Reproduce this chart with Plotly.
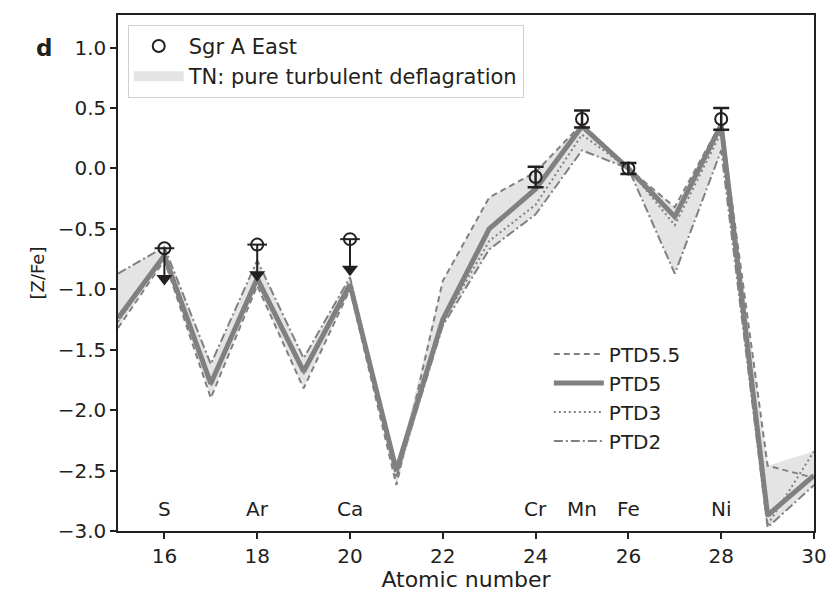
import numpy as np
import plotly.graph_objects as go

# Atomic numbers (P .. Zn)
Z = [15, 16, 17, 18, 19, 20, 21, 22, 23, 24, 25, 26, 27, 28, 29, 30]

# [Z/Fe] yields of the pure turbulent deflagration models
ptd55 = [-1.32, -0.76, -1.90, -0.97, -1.82, -1.00, -2.62, -0.93, -0.24, -0.03, 0.37, 0.0, -0.32, 0.38, -2.46, -2.56]
ptd5 = [-1.24, -0.72, -1.78, -0.91, -1.68, -0.96, -2.50, -1.25, -0.50, -0.17, 0.35, 0.0, -0.40, 0.36, -2.87, -2.54]
ptd3 = [-1.27, -0.72, -1.80, -0.92, -1.70, -0.97, -2.55, -1.27, -0.60, -0.30, 0.28, 0.0, -0.47, 0.30, -2.95, -2.34]
ptd2 = [-0.87, -0.65, -1.62, -0.76, -1.57, -0.90, -2.55, -1.30, -0.67, -0.38, 0.15, 0.0, -0.87, 0.15, -2.97, -2.62]

# Sgr A East measurements
obs_z = [24, 25, 26, 28]
obs_val = [-0.07, 0.41, 0.0, 0.41]
obs_err = [0.085, 0.07, 0.045, 0.09]

# Sgr A East upper limits
lim_z = [16, 18, 20]
lim_val = [-0.66, -0.63, -0.585]
arrow_len = 0.25

# Element labels along the bottom
el_z = [16, 18, 20, 24, 25, 26, 28]
el_names = ["S", "Ar", "Ca", "Cr", "Mn", "Fe", "Ni"]
el_y = -2.82

INK = "#231f20"
GREY = "#808080"
FILL = "#e4e4e4"
FONT = "DejaVu Sans"

models = np.array([ptd55, ptd5, ptd3, ptd2])
upper = models.max(axis=0)
lower = models.min(axis=0)

fig = go.Figure()

# model envelope
fig.add_trace(go.Scatter(x=Z, y=upper, mode="lines", line=dict(width=0, color=FILL),
                         showlegend=False, hoverinfo="skip"))
fig.add_trace(go.Scatter(x=Z, y=lower, mode="lines", line=dict(width=0, color=FILL),
                         fill="tonexty", fillcolor=FILL, showlegend=False, hoverinfo="skip"))
# legend swatch for the envelope
fig.add_trace(go.Scatter(x=[None], y=[None], mode="lines", line=dict(width=16, color=FILL),
                         name="TN: pure turbulent deflagration",
                         legend="legend", legendgroup="g2", legendrank=2))

# model curves
styles = [
    ("PTD5.5", ptd55, dict(color=GREY, width=2, dash="6px,4px")),
    ("PTD5", ptd5, dict(color=GREY, width=5)),
    ("PTD3", ptd3, dict(color=GREY, width=2, dash="2px,3px")),
    ("PTD2", ptd2, dict(color=GREY, width=2, dash="9px,3px,2px,3px")),
]
for i, (name, ys, ln) in enumerate(styles):
    fig.add_trace(go.Scatter(x=Z, y=ys, mode="lines", line=ln, name=name,
                             legend="legend2", legendgroup=f"m{i}", legendrank=i + 1))

# measurements with error bars
fig.add_trace(go.Scatter(
    x=obs_z, y=obs_val, mode="markers", name="Sgr A East",
    marker=dict(symbol="circle-open", size=12, color=INK, line=dict(width=2, color=INK)),
    error_y=dict(type="data", array=obs_err, visible=True, color=INK, thickness=2.5, width=8),
    legend="legend", legendgroup="g1", legendrank=1))

# upper limits: stem, cap through circle, arrow head
fig.add_trace(go.Scatter(
    x=lim_z, y=lim_val, mode="markers", showlegend=False,
    marker=dict(symbol="circle-open", size=12, color=INK, line=dict(width=2, color=INK)),
    error_y=dict(type="data", symmetric=False, array=[0] * len(lim_z),
                 arrayminus=[arrow_len] * len(lim_z), visible=True, color=INK,
                 thickness=2, width=0)))
fig.add_trace(go.Scatter(
    x=lim_z, y=lim_val, mode="markers", showlegend=False,
    marker=dict(symbol="line-ew-open", size=14, color=INK, line=dict(width=2, color=INK))))
fig.add_trace(go.Scatter(
    x=lim_z, y=[v - arrow_len for v in lim_val], mode="markers", showlegend=False,
    marker=dict(symbol="triangle-down", size=14, color=INK, line=dict(width=0))))

annotations = [dict(x=z, y=el_y, text=n, showarrow=False, xref="x", yref="y",
                    font=dict(size=20, color=INK, family=FONT))
               for z, n in zip(el_z, el_names)]
annotations.append(dict(x=-0.106, y=0.936, xref="paper", yref="paper", text="<b>d</b>",
                        xanchor="center", yanchor="middle",
                        showarrow=False, font=dict(size=23, color=INK, family=FONT)))

axis_common = dict(showline=True, linewidth=1.5, linecolor=INK, mirror=True,
                   ticks="outside", ticklen=6, tickwidth=1.5, tickcolor=INK,
                   showgrid=False, zeroline=False, automargin=False,
                   ticklabeloverflow="allow",
                   tickfont=dict(size=20, color=INK, family=FONT))

fig.update_layout(
    width=827, height=592,
    margin=dict(l=118, r=13, t=15, b=61),
    plot_bgcolor="white", paper_bgcolor="white",
    font=dict(family=FONT, color=INK, size=20),
    xaxis=dict(range=[15, 30], tickvals=list(range(16, 31, 2)),
               title=dict(text="Atomic number", font=dict(size=22), standoff=2),
               **axis_common),
    yaxis=dict(range=[-3.0, 1.27], tickvals=[-3.0, -2.5, -2.0, -1.5, -1.0, -0.5, 0.0, 0.5, 1.0],
               tickformat=".1f",
               title=dict(text="[Z/Fe]", font=dict(size=18), standoff=8),
               **axis_common),
    legend=dict(x=0.014, y=0.981, xanchor="left", yanchor="top",
                bgcolor="rgba(255,255,255,0.8)", bordercolor="#d0d0d0", borderwidth=1,
                font=dict(size=21, color=INK, family=FONT),
                traceorder="grouped", tracegroupgap=0, itemwidth=50),
    legend2=dict(x=0.619, y=0.381, xanchor="left", yanchor="top",
                 bgcolor="rgba(0,0,0,0)", borderwidth=0,
                 font=dict(size=20, color=INK, family=FONT),
                 traceorder="grouped", tracegroupgap=0, itemwidth=50),
    annotations=annotations,
)

fig.write_html("out.html")
